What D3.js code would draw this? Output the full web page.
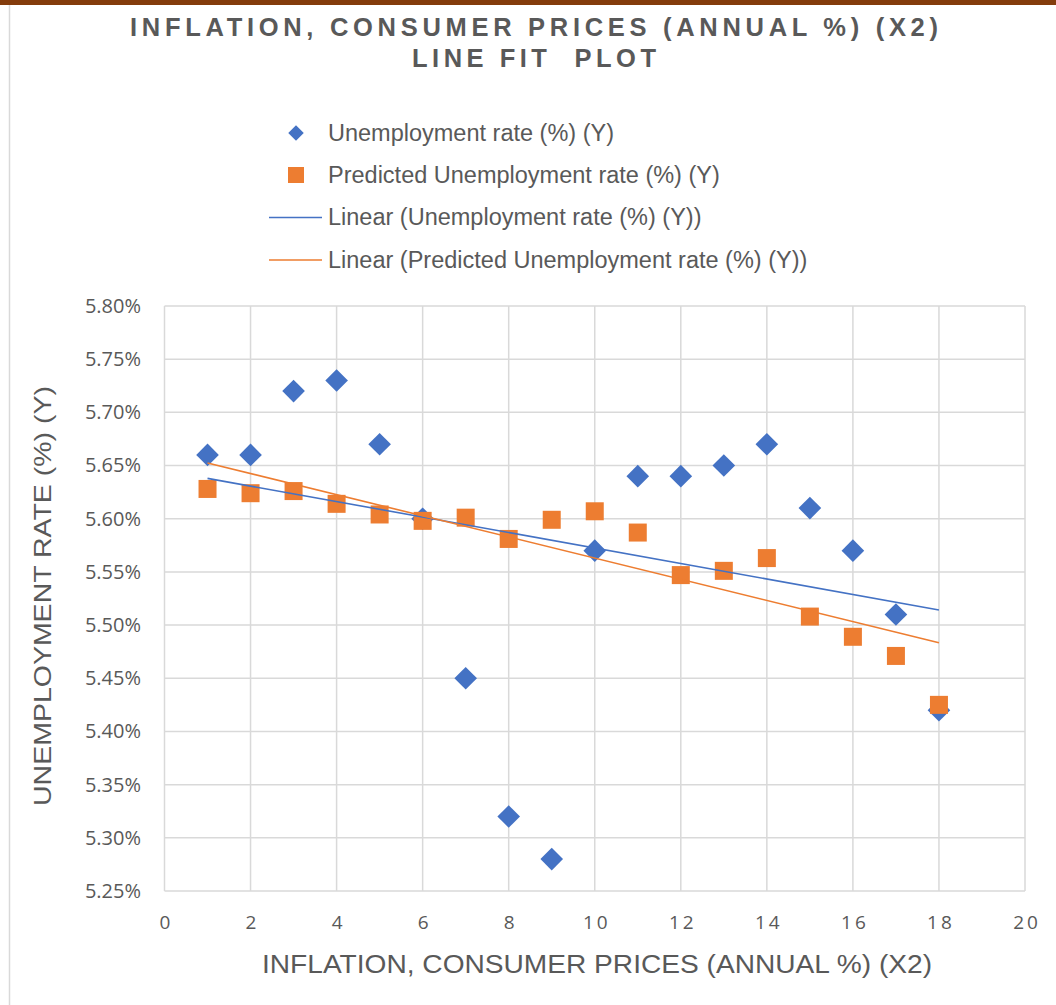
<!DOCTYPE html>
<html><head><meta charset="utf-8">
<script src="https://cdn.jsdelivr.net/npm/d3@7"></script>
<style>body{margin:0;background:#fff}svg{display:block}</style>
</head><body>
<script>
const xValues = [1,2,3,4,5,6,7,8,9,10,11,12,13,14,15,16,17,18];
const actual = [5.66,5.66,5.72,5.73,5.67,5.60,5.45,5.32,5.28,5.57,5.64,5.64,5.65,5.67,5.61,5.57,5.51,5.42];
const predicted = [5.628,5.624,5.626,5.614,5.604,5.598,5.601,5.581,5.599,5.607,5.587,5.547,5.551,5.563,5.508,5.489,5.471,5.425];
const xTicks = [0,2,4,6,8,10,12,14,16,18,20];
const yTicks = [5.25,5.30,5.35,5.40,5.45,5.50,5.55,5.60,5.65,5.70,5.75,5.80];
const titleLines = ["INFLATION, CONSUMER PRICES (ANNUAL %) (X2)", "LINE FIT  PLOT"];
const legendLabels = ["Unemployment rate (%) (Y)","Predicted Unemployment rate (%) (Y)","Linear (Unemployment rate (%) (Y))","Linear (Predicted Unemployment rate (%) (Y))"];
const xTitle = "INFLATION, CONSUMER PRICES (ANNUAL %) (X2)";
const yTitle = "UNEMPLOYMENT RATE (%) (Y)";

const W = 1056, H = 1005;
const blue = "#4472C4", orange = "#ED7D31", grey = "#595959";
const svg = d3.select("body").append("svg").attr("width", W).attr("height", H);
svg.append("rect").attr("width", W).attr("height", H).attr("fill", "#fff");
svg.append("rect").attr("x",0).attr("y",0).attr("width",W).attr("height",5).attr("fill","#843C0C");
svg.append("line").attr("x1",9.5).attr("x2",9.5).attr("y1",5).attr("y2",H).attr("stroke","#d9d9d9").attr("stroke-width",1.5);

const x = d3.scaleLinear().domain([0,20]).range([164.5,1025]);
const y = d3.scaleLinear().domain([5.25,5.80]).range([891,306]);

// gridlines
const g = svg.append("g");
g.selectAll(".vg").data(xTicks).join("line").attr("x1",d=>x(d)).attr("x2",d=>x(d)).attr("y1",y(5.80)).attr("y2",y(5.25)).attr("stroke","#d9d9d9").attr("stroke-width",1.5);
g.selectAll(".hg").data(yTicks).join("line").attr("x1",x(0)).attr("x2",x(20)).attr("y1",d=>y(d)).attr("y2",d=>y(d)).attr("stroke","#d9d9d9").attr("stroke-width",1.5);

// axes labels via d3 axes
const xAxis = svg.append("g").attr("transform",`translate(0,${y(5.25)})`).call(d3.axisBottom(x).tickValues(xTicks).tickSize(0).tickPadding(25).tickFormat(d3.format("d")));
xAxis.select(".domain").remove();
xAxis.selectAll("text").attr("font-family","'Open Sans', sans-serif").attr("font-size",19).attr("fill",grey).attr("letter-spacing","3px").attr("dx","1.5px");
const yAxis = svg.append("g").attr("transform",`translate(${x(0)},0)`).call(d3.axisLeft(y).tickValues(yTicks).tickSize(0).tickPadding(23.5).tickFormat(d=>d.toFixed(2)+"%"));
yAxis.select(".domain").remove();
yAxis.selectAll("text").attr("font-family","'Open Sans', sans-serif").attr("font-size",20).attr("fill",grey);

// regression lines
function fit(xs, ys){
  const n=xs.length, mx=d3.mean(xs), my=d3.mean(ys);
  let sxy=0,sxx=0; for(let i=0;i<n;i++){sxy+=(xs[i]-mx)*(ys[i]-my); sxx+=(xs[i]-mx)**2;}
  const b=sxy/sxx, a=my-b*mx; return v=>a+b*v;
}
const fa = fit(xValues, actual), fp = fit(xValues, predicted);
const xr = d3.extent(xValues);
const line = d3.line().x(d=>x(d[0])).y(d=>y(d[1]));

// markers
svg.append("g").selectAll("path").data(xValues).join("path")
  .attr("d", d3.symbol(d3.symbolSquare, 256)())
  .attr("transform",(d,i)=>`translate(${x(d)},${y(actual[i])}) rotate(45)`).attr("fill",blue);
svg.append("g").selectAll("rect").data(xValues).join("rect")
  .attr("x",d=>x(d)-9).attr("y",(d,i)=>y(predicted[i])-9).attr("width",18).attr("height",18).attr("fill",orange);

svg.append("path").attr("d",line(xr.map(v=>[v,fa(v)]))).attr("stroke",blue).attr("stroke-width",1.6).attr("fill","none");
svg.append("path").attr("d",line(xr.map(v=>[v,fp(v)]))).attr("stroke",orange).attr("stroke-width",1.6).attr("fill","none");

// title
const titleWidths = [808, 244];
svg.append("g").selectAll("text").data(titleLines).join("text")
  .attr("x",534).attr("y",(d,i)=>36+i*31).attr("text-anchor","middle")
  .attr("font-family","'Liberation Sans', Arial, sans-serif").attr("font-weight","bold").attr("font-size",25.5)
  .attr("fill",grey).attr("textLength",(d,i)=>titleWidths[i]).attr("lengthAdjust","spacing")
  .attr("xml:space","preserve").style("white-space","pre").text(d=>d);

// legend
const lg = svg.append("g");
const ly = [133,175,217.5,260];
lg.append("path").attr("d",d3.symbol(d3.symbolSquare,120)()).attr("transform",`translate(296,${ly[0]}) rotate(45)`).attr("fill",blue);
lg.append("rect").attr("x",288).attr("y",ly[1]-8).attr("width",16).attr("height",16).attr("fill",orange);
lg.append("line").attr("x1",269).attr("x2",322).attr("y1",ly[2]).attr("y2",ly[2]).attr("stroke",blue).attr("stroke-width",1.6);
lg.append("line").attr("x1",269).attr("x2",322).attr("y1",ly[3]).attr("y2",ly[3]).attr("stroke",orange).attr("stroke-width",1.6);
lg.selectAll("text").data(legendLabels).join("text")
  .attr("x",328).attr("y",(d,i)=>ly[i]+7.5).attr("font-family","'Liberation Sans', Arial, sans-serif").attr("font-size",23.5).attr("fill",grey).text(d=>d);

// axis titles
svg.append("text").attr("x",597).attr("y",973).attr("text-anchor","middle")
  .attr("font-family","'Liberation Sans', Arial, sans-serif").attr("font-size",26).attr("fill",grey)
  .attr("textLength",670).attr("lengthAdjust","spacingAndGlyphs").text(xTitle);
svg.append("text").attr("transform","translate(51,596) rotate(-90)").attr("text-anchor","middle")
  .attr("font-family","'Liberation Sans', Arial, sans-serif").attr("font-size",24).attr("fill",grey)
  .attr("textLength",420).attr("lengthAdjust","spacingAndGlyphs").text(yTitle);
</script>
</body></html>
